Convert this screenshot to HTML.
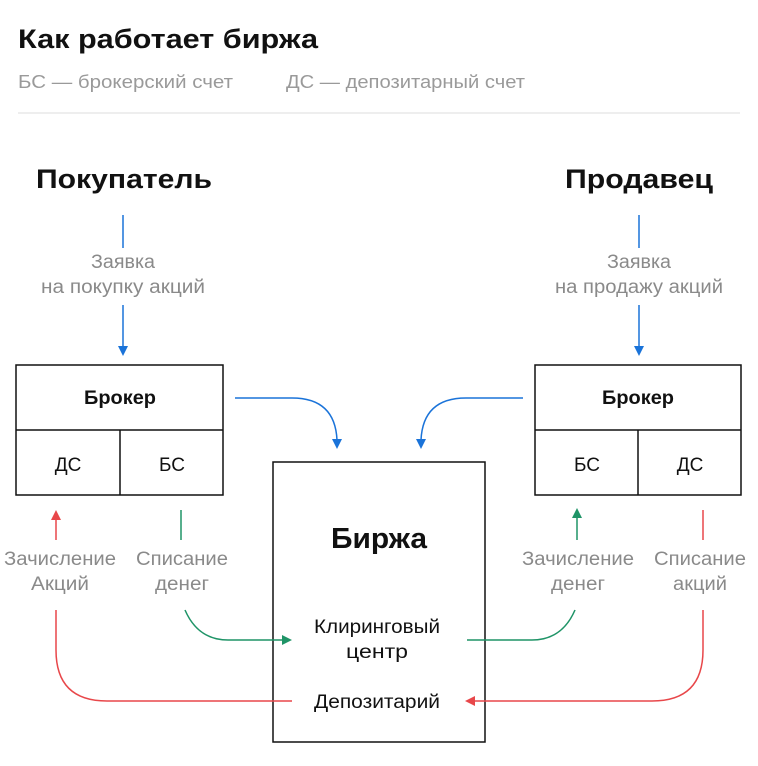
<!DOCTYPE html>
<html><head><meta charset="utf-8"><style>
body{margin:0;background:#fff;}
svg{display:block;font-family:"Liberation Sans",sans-serif;}
</style></head><body>
<svg width="758" height="766" viewBox="0 0 758 766" xmlns="http://www.w3.org/2000/svg">
<text x="18" y="48" font-size="27" font-weight="bold" fill="#111" textLength="300" lengthAdjust="spacingAndGlyphs">Как работает биржа</text>
<text x="18" y="88" font-size="18" fill="#9a9a9a" textLength="215" lengthAdjust="spacingAndGlyphs">БС — брокерский счет</text>
<text x="286" y="88" font-size="18" fill="#9a9a9a" textLength="239" lengthAdjust="spacingAndGlyphs">ДС — депозитарный счет</text>
<line x1="18" y1="113" x2="740" y2="113" stroke="#ddd" stroke-width="1"/>
<text x="36" y="188" font-size="27" font-weight="bold" fill="#111" textLength="176" lengthAdjust="spacingAndGlyphs">Покупатель</text>
<text x="565" y="188" font-size="27" font-weight="bold" fill="#111" textLength="148" lengthAdjust="spacingAndGlyphs">Продавец</text>
<g font-size="19" fill="#8a8a8a" text-anchor="middle">
<text x="123" y="268" textLength="64" lengthAdjust="spacingAndGlyphs">Заявка</text><text x="123" y="293" textLength="164" lengthAdjust="spacingAndGlyphs">на покупку акций</text>
<text x="639" y="268" textLength="64" lengthAdjust="spacingAndGlyphs">Заявка</text><text x="639" y="293" textLength="168" lengthAdjust="spacingAndGlyphs">на продажу акций</text>
<text x="60" y="565" textLength="112" lengthAdjust="spacingAndGlyphs">Зачисление</text><text x="60" y="590" textLength="58" lengthAdjust="spacingAndGlyphs">Акций</text>
<text x="182" y="565" textLength="92" lengthAdjust="spacingAndGlyphs">Списание</text><text x="182" y="590" textLength="54" lengthAdjust="spacingAndGlyphs">денег</text>
<text x="578" y="565" textLength="112" lengthAdjust="spacingAndGlyphs">Зачисление</text><text x="578" y="590" textLength="54" lengthAdjust="spacingAndGlyphs">денег</text>
<text x="700" y="565" textLength="92" lengthAdjust="spacingAndGlyphs">Списание</text><text x="700" y="590" textLength="54" lengthAdjust="spacingAndGlyphs">акций</text>
</g>
<g stroke="#1a73d9" stroke-width="1.5" fill="none">
<line x1="123" y1="215" x2="123" y2="248"/>
<line x1="123" y1="305" x2="123" y2="346"/>
<line x1="639" y1="215" x2="639" y2="248"/>
<line x1="639" y1="305" x2="639" y2="346"/>
<path d="M235,398 H292 Q335,398 337,440"/>
<path d="M523,398 H466 Q423,398 421,440"/>
</g>
<g fill="#1a73d9">
<path d="M118,346 h10 l-5,10z"/><path d="M634,346 h10 l-5,10z"/>
<path d="M332,439 h10 l-5,10z"/><path d="M416,439 h10 l-5,10z"/>
</g>
<g stroke="#111" stroke-width="1.5" fill="none">
<rect x="16" y="365" width="207" height="130"/>
<line x1="16" y1="430" x2="223" y2="430"/><line x1="120" y1="430" x2="120" y2="495"/>
<rect x="535" y="365" width="206" height="130"/>
<line x1="535" y1="430" x2="741" y2="430"/><line x1="638" y1="430" x2="638" y2="495"/>
<rect x="273" y="462" width="212" height="280"/>
</g>
<g font-size="19" fill="#111" text-anchor="middle">
<text x="120" y="404" font-weight="bold" textLength="72" lengthAdjust="spacingAndGlyphs">Брокер</text>
<text x="68" y="471">ДС</text><text x="172" y="471">БС</text>
<text x="638" y="404" font-weight="bold" textLength="72" lengthAdjust="spacingAndGlyphs">Брокер</text>
<text x="587" y="471">БС</text><text x="690" y="471">ДС</text>
<text x="379" y="548" font-size="29" font-weight="bold" textLength="96" lengthAdjust="spacingAndGlyphs">Биржа</text>
<text x="377" y="633" textLength="126" lengthAdjust="spacingAndGlyphs">Клиринговый</text><text x="377" y="658" textLength="62" lengthAdjust="spacingAndGlyphs">центр</text>
<text x="377" y="708" textLength="126" lengthAdjust="spacingAndGlyphs">Депозитарий</text>
</g>
<g stroke="#e8474a" stroke-width="1.5" fill="none">
<line x1="56" y1="520" x2="56" y2="540"/>
<path d="M56,610 V650 Q56,701 107,701 H292"/>
<line x1="703" y1="510" x2="703" y2="540"/>
<path d="M703,610 V650 Q703,701 652,701 H475"/>
</g>
<g fill="#e8474a"><path d="M51,520 h10 l-5,-10z"/><path d="M475,696 v10 l-10,-5z"/></g>
<g stroke="#1f9467" stroke-width="1.5" fill="none">
<line x1="181" y1="510" x2="181" y2="540"/>
<path d="M185,610 Q198,640 228,640 H282"/>
<line x1="577" y1="518" x2="577" y2="540"/>
<path d="M575,610 Q562,640 532,640 H467"/>
</g>
<g fill="#1f9467"><path d="M282,635 v10 l10,-5z"/><path d="M572,518 h10 l-5,-10z"/></g>
</svg>
</body></html>
